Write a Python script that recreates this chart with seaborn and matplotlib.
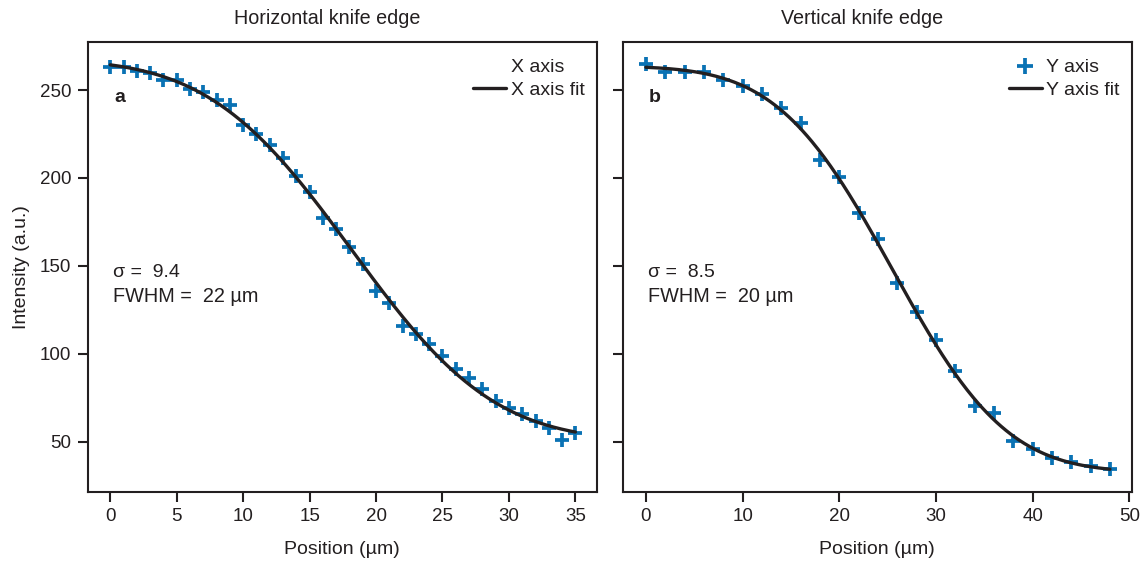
import math
import numpy as np
import matplotlib
matplotlib.use("Agg")
import matplotlib.pyplot as plt
import seaborn as sns
from matplotlib.lines import Line2D

# ---------------- data ----------------
h_pos = [0, 1, 2, 3, 4, 5, 6, 7, 8, 9, 10, 11, 12, 13, 14, 15, 16, 17,
         18, 19, 20, 21, 22, 23, 24, 25, 26, 27, 28, 29, 30, 31, 32, 33, 34, 35]
h_int = [263, 263, 261, 259.5, 255.5, 255.5, 250.5, 249, 244.5, 241.5,
         230, 225, 218.5, 211.5, 201, 192, 177.5, 171, 160.5, 151,
         136, 129, 116, 111, 105.5, 98.5, 91.5, 86, 80, 73,
         69, 66, 62, 58, 51, 55]

v_pos = [0, 2, 4, 6, 8, 10, 12, 14, 16, 18, 20, 22, 24, 26, 28, 30, 32,
         34, 36, 38, 40, 42, 44, 46, 48]
v_int = [265, 260, 260, 260.5, 255.5, 252.5, 247.5, 240, 231, 210.5,
         200.5, 180, 165.5, 140, 123.5, 108, 90, 70.5, 66.5, 50.5,
         46, 41, 38.5, 36, 34.5]

h_sigma = 9.4
v_sigma = 8.5
h_fwhm = 22
v_fwhm = 20

titles = ["Horizontal knife edge", "Vertical knife edge"]
panel_tags = ["a", "b"]
legend_labels = [["X axis", "X axis fit"], ["Y axis", "Y axis fit"]]
x_label = "Position (µm)"
y_label = "Intensity (a.u.)"
h_xticks = [0, 5, 10, 15, 20, 25, 30, 35]
v_xticks = [0, 10, 20, 30, 40, 50]
yticks = [50, 100, 150, 200, 250]

BLUE = "#0a72b4"
DARK = "#231f20"

# ------------- error-function edge fit (least squares, free centre & width) -------------
erf = np.frompyfunc(math.erf, 1, 1)


def model_basis(x, x0, s):
    return 0.5 * (1 - erf((x - x0) / (np.sqrt(2) * s)).astype(float))


def edge_fit(x, y):
    x = np.asarray(x, float)
    y = np.asarray(y, float)
    best = None
    x0_grid = np.linspace(x.min(), x.max(), 121)
    s_grid = np.linspace(4, 16, 61)
    for _ in range(3):
        for x0 in x0_grid:
            for s in s_grid:
                A = np.column_stack([model_basis(x, x0, s), np.ones_like(x)])
                coef = np.linalg.lstsq(A, y, rcond=None)[0]
                err = np.sum((A @ coef - y) ** 2)
                if best is None or err < best[0]:
                    best = (err, x0, s, coef)
        dx = (x0_grid[1] - x0_grid[0]) * 2
        ds = (s_grid[1] - s_grid[0]) * 2
        x0_grid = np.linspace(best[1] - dx, best[1] + dx, 21)
        s_grid = np.linspace(best[2] - ds, best[2] + ds, 21)
    xs = np.linspace(x.min(), x.max(), 300)
    ys = best[3][0] * model_basis(xs, best[1], best[2]) + best[3][1]
    return xs, ys


sns.set_theme(style="ticks")
plt.rcParams["font.family"] = ["Liberation Sans", "DejaVu Sans"]
plt.rcParams["axes.edgecolor"] = DARK
plt.rcParams["axes.linewidth"] = 1.5
plt.rcParams["xtick.color"] = DARK
plt.rcParams["ytick.color"] = DARK
plt.rcParams["text.color"] = DARK
plt.rcParams["axes.labelcolor"] = DARK

fig = plt.figure(figsize=(11.43, 5.64), dpi=100)
ax1 = fig.add_axes([0.0767, 0.1282, 0.4453, 0.7979])
ax2 = fig.add_axes([0.5448, 0.1282, 0.4453, 0.7979], sharey=ax1)

panels = [
    (ax1, h_pos, h_int, h_sigma, h_fwhm, h_xticks, (-1.7, 36.6)),
    (ax2, v_pos, v_int, v_sigma, v_fwhm, v_xticks, (-2.4, 50.25)),
]

for i, (ax, xp, yp, sig, fw, xt, xl) in enumerate(panels):
    xs, ys = edge_fit(xp, yp)
    sns.scatterplot(x=xp, y=yp, ax=ax, marker="+", s=115, linewidth=2.7,
                    color=BLUE, zorder=2, legend=False)
    sns.lineplot(x=xs, y=ys, ax=ax, color=DARK, linewidth=2.4, zorder=3,
                 legend=False)
    ax.set_xlim(*xl)
    ax.set_ylim(21.6, 277.5)
    ax.set_xticks(xt)
    ax.set_yticks(yticks)
    ax.tick_params(direction="out", length=7, width=1.5, labelsize=13.5, pad=5)
    for sp in ax.spines.values():
        sp.set_visible(True)
        sp.set_linewidth(1.5)
        sp.set_color(DARK)
    ax.set_title(titles[i], fontsize=14.2, pad=13, x=0.47)
    ax.set_xlabel(x_label, fontsize=14, labelpad=11)
    ax.text(0.063, 0.877, panel_tags[i], transform=ax.transAxes,
            fontsize=14, fontweight="bold", ha="center", va="center")
    ax.text(0.05, 0.488, f"σ =  {sig}", transform=ax.transAxes,
            fontsize=14, ha="left", va="center")
    ax.text(0.05, 0.433, f"FWHM =  {fw} µm", transform=ax.transAxes,
            fontsize=14.3, ha="left", va="center")

    if i == 0:
        h_marker = Line2D([], [], linestyle="none", marker=None)
    else:
        h_marker = Line2D([], [], linestyle="none", marker="+", color=BLUE,
                          markersize=11, markeredgewidth=2.7)
    h_line = Line2D([], [], color=DARK, linewidth=2.4)
    ax.legend([h_marker, h_line], legend_labels[i], loc="upper right",
              bbox_to_anchor=(0.977, 0.962), frameon=False, fontsize=14,
              handlelength=1.7, handletextpad=0.25, labelspacing=0.25,
              borderpad=0, borderaxespad=0)

ax1.set_ylabel(y_label, fontsize=14, labelpad=7)
ax2.tick_params(labelleft=False)
ax2.set_ylabel("")

fig.savefig("out.png", dpi=100)
